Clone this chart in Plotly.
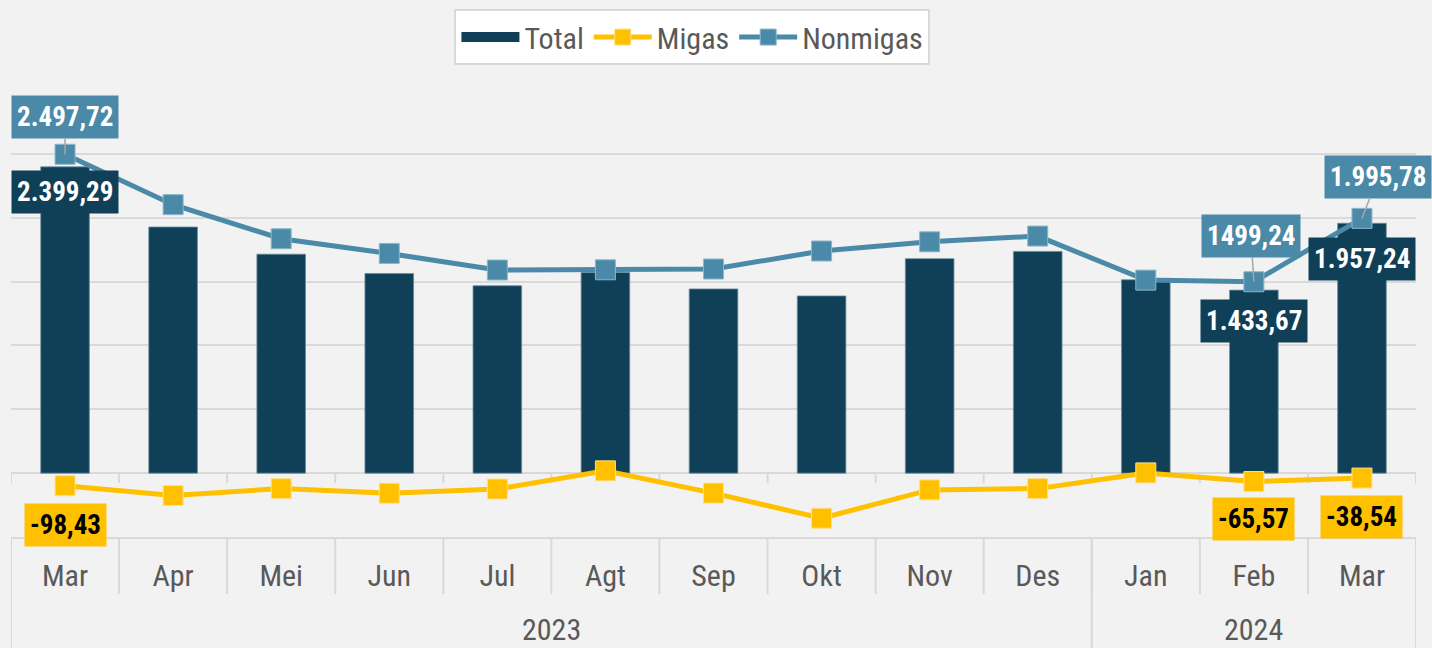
import plotly.graph_objects as go

years = ["2023", "2024"]
year_of_month = ["2023"] * 10 + ["2024"] * 3
months = ["Mar", "Apr", "Mei", "Jun", "Jul", "Agt", "Sep", "Okt", "Nov", "Des", "Jan", "Feb", "Mar"]
total = [2399.29, 1928, 1715, 1564, 1468, 1572, 1443, 1388, 1680, 1737, 1515, 1433.67, 1957.24]
migas = [-98.43, -175, -121, -157, -124, 18, -156, -353, -131, -121, 2, -65.57, -38.54]
nonmigas = [2497.72, 2103, 1836, 1721, 1591, 1593, 1599, 1740, 1812, 1857, 1512, 1499.24, 1995.78]

total_labels = {0: "2.399,29", 11: "1.433,67", 12: "1.957,24"}
migas_labels = {0: "-98,43", 11: "-65,57", 12: "-38,54"}
nonmigas_labels = {0: "2.497,72", 11: "1499,24", 12: "1.995,78"}

C_TOTAL = "#0F4058"
C_MIGAS = "#FFC000"
C_NON = "#4A8AA8"
GRID = "#D9D9D9"
TXT = "#595959"
FONT = "Liberation Sans Narrow, Arial Narrow, Roboto Condensed, Liberation Sans, sans-serif"

idx = list(range(len(months)))

fig = go.Figure()
# legend-only proxy for the Total bar (wide rectangle symbol)
fig.add_trace(go.Scatter(x=[None], y=[None], name="Total", mode="lines", xaxis="x2", yaxis="y2",
                         line=dict(color=C_TOTAL, width=17), hoverinfo="skip"))
fig.add_trace(go.Bar(x=idx, y=total, name="Total", showlegend=False,
                     marker=dict(color=C_TOTAL, line=dict(color="#6F8E9E", width=0.8)), width=0.45))
fig.add_trace(go.Scatter(x=idx, y=migas, name="Migas", mode="lines+markers",
                         line=dict(color=C_MIGAS, width=5),
                         marker=dict(symbol="square", size=20, color=C_MIGAS, line=dict(color="#FFE08A", width=1))))
fig.add_trace(go.Scatter(x=idx, y=nonmigas, name="Nonmigas", mode="lines+markers",
                         line=dict(color=C_NON, width=5),
                         marker=dict(symbol="square", size=20, color=C_NON, line=dict(color="#8DB6CA", width=1))))

annotations = []
label_font = dict(family=FONT, size=27, color="white")
non_offsets = {0: (0, -37), 11: (-3, -46), 12: (16, -41)}
for i, txt in nonmigas_labels.items():
    ax, ay = non_offsets[i]
    annotations.append(dict(x=i, y=nonmigas[i], xref="x", yref="y", text="<b>" + txt + "</b>",
                            showarrow=True, arrowhead=0, arrowwidth=1.5, arrowcolor="#A6A6A6",
                            ax=ax, ay=ay, bgcolor=C_NON, borderpad=5, height=32, font=label_font))
total_shift = {0: -25, 11: -31, 12: -36}
for i, txt in total_labels.items():
    annotations.append(dict(x=i, y=total[i], xref="x", yref="y", text="<b>" + txt + "</b>",
                            showarrow=False, yshift=total_shift[i], bgcolor=C_TOTAL, borderpad=5,
                            height=32, font=label_font))
migas_shift = {0: -39, 11: -37, 12: -39}
for i, txt in migas_labels.items():
    annotations.append(dict(x=i, y=migas[i], xref="x", yref="y", text="<b>" + txt + "</b>",
                            showarrow=False, yshift=migas_shift[i], bgcolor=C_MIGAS, borderpad=5,
                            height=32, font=dict(family=FONT, size=27, color="black")))

# year labels centred under their month groups
for yr in years:
    members = [i for i, y in enumerate(year_of_month) if y == yr]
    annotations.append(dict(x=(members[0] + members[-1]) / 2, y=0, xref="x", yref="paper",
                            yanchor="middle", yshift=-92, text=yr, showarrow=False,
                            font=dict(family=FONT, size=30, color=TXT)))

shapes = []
n = len(months)
boundaries = [k - 0.5 for k in range(n + 1)]
year_bounds = [-0.5] + [i + 0.5 for i in range(n - 1) if year_of_month[i] != year_of_month[i + 1]] + [n - 0.5]
for b in boundaries:
    # small ticks on the zero line
    shapes.append(dict(type="line", xref="x", x0=b, x1=b, yref="y", ysizemode="pixel",
                       yanchor=0, y0=0, y1=-10, line=dict(color=GRID, width=2), layer="below"))
    # month separators in the label band
    shapes.append(dict(type="line", xref="x", x0=b, x1=b, yref="paper", ysizemode="pixel",
                       yanchor=0, y0=0, y1=-57, line=dict(color=GRID, width=2), layer="below"))
for b in year_bounds:
    shapes.append(dict(type="line", xref="x", x0=b, x1=b, yref="paper", ysizemode="pixel",
                       yanchor=0, y0=0, y1=-115, line=dict(color=GRID, width=2), layer="below"))

fig.update_layout(
    width=1432, height=648,
    margin=dict(l=11, r=16, t=90, b=111, autoexpand=False),
    paper_bgcolor="#F2F2F2", plot_bgcolor="#F2F2F2",
    font=dict(family=FONT, size=30, color=TXT),
    showlegend=True,
    legend=dict(orientation="h", x=0.485, xanchor="center", y=1.181, yanchor="top",
                bgcolor="white", bordercolor=GRID, borderwidth=2, itemwidth=58,
                font=dict(family=FONT, size=30, color=TXT)),
    annotations=annotations,
    shapes=shapes,
    xaxis=dict(range=[-0.5, n - 0.5], tickmode="array", tickvals=idx, ticktext=months,
               showgrid=False, showline=True, linecolor=GRID, linewidth=2, ticks="",
               ticklabelstandoff=11, zeroline=False,
               tickfont=dict(family=FONT, size=30, color=TXT), fixedrange=True),
    yaxis=dict(range=[-500, 3001], dtick=500, tick0=0, showticklabels=False, showgrid=True,
               gridcolor=GRID, gridwidth=2, zeroline=True, zerolinecolor=GRID, zerolinewidth=2,
               fixedrange=True),
    xaxis2=dict(overlaying="x", visible=False, range=[0, 1]),
    yaxis2=dict(overlaying="y", visible=False, range=[0, 1]),
)

fig.write_html("out.html", config={"displayModeBar": False},
               post_script="document.body.style.margin='0px';")
